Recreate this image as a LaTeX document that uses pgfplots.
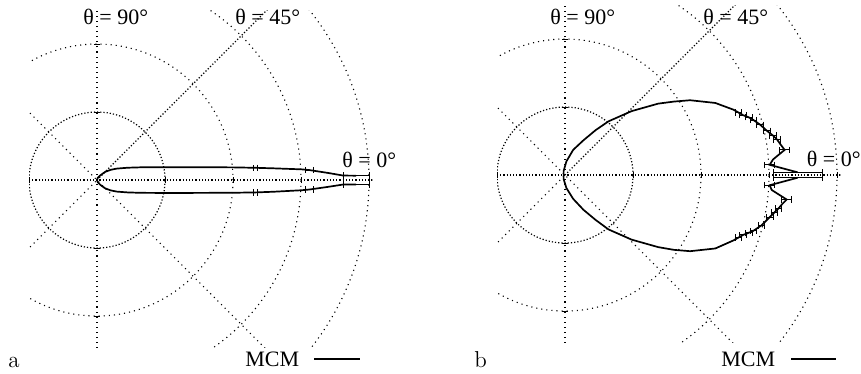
\documentclass[border=0pt]{standalone}
\usepackage{pgfplots}
\pgfplotsset{compat=1.18}
\usepackage{fontspec}
\newfontfamily\timesfont{Liberation Serif}

% polar grid drawn inside each axis (1 unit = 34pt)
\newcommand{\vtick}[1]{\draw[line width=0.5pt] ([yshift=-1.6pt]axis cs:#1,0) -- ([yshift=1.6pt]axis cs:#1,0);}
\newcommand{\htick}[1]{\draw[line width=0.5pt] ([xshift=-1.6pt]axis cs:0,#1) -- ([xshift=1.6pt]axis cs:0,#1);}
\newcommand{\polargrid}{%
  \draw[densely dotted, line width=0.6pt] (axis cs:0,0) circle[radius=1];
  \draw[dotted, line width=0.55pt] (axis cs:0,0) circle[radius=2];
  \draw[dotted, line width=0.55pt] (axis cs:0,0) circle[radius=3];
  \draw[dotted, line width=0.55pt] (axis cs:0,0) circle[radius=4];
  \draw[densely dotted, line width=0.6pt] (axis cs:-1,0) -- (axis cs:6,0);
  \draw[densely dotted, line width=0.6pt] (axis cs:0,0) -- (axis cs:4,4);
  \draw[dotted, line width=0.55pt] (axis cs:0,-3) -- (axis cs:0,3);
  \draw[dotted, line width=0.55pt] (axis cs:-3,3) -- (axis cs:3,-3);
  \draw[dotted, line width=0.55pt] (axis cs:-3,-3) -- (axis cs:0,0);
  \vtick{-1}\vtick{1}\vtick{2}\vtick{3}\vtick{4}
  \htick{-2}\htick{-1}\htick{1}\htick{2}
}

\pgfplotsset{
  polarpanel/.style={
    scale only axis, hide axis, anchor=south west,
    width=171.7pt, height=168.98pt,
    xmin=-1, xmax=4.05, ymin=-2.47, ymax=2.5,
  },
  curve/.style={black, line width=0.85pt, no markers},
  ebars/.style={draw=none, mark=none,
    error bars/.cd, x dir=both, x explicit,
    error bar style={draw=black, solid, line width=0.45pt},
    error mark=|,
    error mark options={draw=black, solid, mark size=1.6pt, line width=0.45pt}},
}

\begin{document}
\begin{tikzpicture}
\path[use as bounding box] (0,0) rectangle (430.5pt,187pt);

% ---------- panel a ----------
\begin{axis}[polarpanel, at={(14.5pt,13pt)}]
\polargrid
\addplot[curve] coordinates {
  (3.81,0.064) (3.62,0.066) (3.40,0.104) (3.12,0.147) (3.01,0.157)
  (2.60,0.172) (2.33,0.180) (2.01,0.186) (1.50,0.189) (1.00,0.189)
  (0.64,0.187) (0.45,0.181) (0.29,0.168) (0.20,0.150) (0.12,0.120)
  (0.05,0.070) (0.01,0.030) (0,0)
  (0.01,-0.030) (0.05,-0.072) (0.12,-0.122) (0.20,-0.152) (0.29,-0.170)
  (0.45,-0.182) (0.64,-0.188) (1.00,-0.190) (1.50,-0.189) (2.01,-0.187)
  (2.33,-0.182) (2.60,-0.172) (3.01,-0.150) (3.12,-0.140) (3.40,-0.100)
  (3.62,-0.066) (3.81,-0.066)
};
\addplot[ebars] coordinates {
  (2.33,0.180) +- (0.035,0) (2.33,-0.182) +- (0.035,0)
  (3.12,0.147) +- (0.06,0)  (3.12,-0.140) +- (0.06,0)
  (3.81,0.064) +- (0.19,0)  (3.81,-0.066) +- (0.19,0)
};
\end{axis}

% ---------- panel b ----------
\begin{axis}[polarpanel, at={(248.5pt,15.5pt)}]
\polargrid
\addplot[curve] coordinates {
  (3.42,0.04) (3.01,0.15) (3.06,0.23) (3.23,0.37) (3.17,0.45) (3.12,0.52)
  (3.06,0.58) (2.97,0.65) (2.87,0.74) (2.77,0.81) (2.70,0.85) (2.62,0.88)
  (2.55,0.92) (2.48,0.96) (2.21,1.06) (1.84,1.10) (1.60,1.08) (1.37,1.05)
  (0.98,0.94) (0.64,0.79) (0.45,0.66) (0.27,0.51) (0.12,0.37) (0.02,0.20)
  (-0.02,0.06) (-0.02,0)
  (-0.02,-0.06) (0.02,-0.19) (0.12,-0.35) (0.27,-0.51) (0.45,-0.66)
  (0.64,-0.80) (0.98,-0.95) (1.37,-1.06) (1.60,-1.10) (1.84,-1.12)
  (2.21,-1.08) (2.48,-0.96) (2.55,-0.92) (2.62,-0.88) (2.70,-0.85)
  (2.77,-0.82) (2.89,-0.74) (3.01,-0.62) (3.08,-0.55) (3.14,-0.49)
  (3.20,-0.42) (3.26,-0.36) (3.04,-0.22) (3.01,-0.15) (3.42,-0.04)
};
\addplot[ebars] coordinates {
  (2.55,0.92) +- (0.05,0) (2.62,0.88) +- (0.05,0) (2.70,0.85) +- (0.05,0)
  (2.77,0.81) +- (0.05,0) (2.87,0.74) +- (0.05,0) (2.97,0.65) +- (0.05,0)
  (3.06,0.58) +- (0.05,0) (3.12,0.52) +- (0.05,0) (3.23,0.37) +- (0.07,0)
  (3.01,0.15) +- (0.07,0) (3.42,0.04) +- (0.36,0)
  (2.55,-0.92) +- (0.05,0) (2.62,-0.88) +- (0.05,0) (2.70,-0.85) +- (0.05,0)
  (2.77,-0.82) +- (0.05,0) (2.89,-0.74) +- (0.05,0) (3.01,-0.62) +- (0.05,0)
  (3.08,-0.55) +- (0.05,0) (3.14,-0.49) +- (0.05,0) (3.26,-0.36) +- (0.07,0)
  (3.01,-0.15) +- (0.07,0) (3.42,-0.04) +- (0.36,0)
};
\end{axis}

% ---------- labels ----------
\begin{scope}[every node/.style={inner sep=0pt, font=\timesfont\fontsize{11}{12}\selectfont}]
\node[anchor=base west] at (41.5pt,174.5pt) {θ = 90°};
\node[anchor=base west] at (117.5pt,174.5pt) {θ = 45°};
\node[anchor=base west] at (171pt,103pt) {θ = 0°};
\node[anchor=base west] at (275pt,174.5pt) {θ = 90°};
\node[anchor=base west] at (351.5pt,174.5pt) {θ = 45°};
\node[anchor=base east] at (430.5pt,103.5pt) {θ = 0°};
\node[anchor=base west] at (122.5pt,3.5pt) {MCM};
\node[anchor=base west] at (360.5pt,3.5pt) {MCM};
\end{scope}
\draw[black, line width=0.6pt] (157pt,7.5pt) -- (180pt,7.5pt);
\draw[black, line width=0.6pt] (395.5pt,7.5pt) -- (418pt,7.5pt);
\node[anchor=base west, inner sep=0pt, font=\fontsize{11.5}{12}\selectfont] at (4pt,3pt) {a};
\node[anchor=base west, inner sep=0pt, font=\fontsize{11.5}{12}\selectfont] at (237pt,3pt) {b};
\end{tikzpicture}
\end{document}
